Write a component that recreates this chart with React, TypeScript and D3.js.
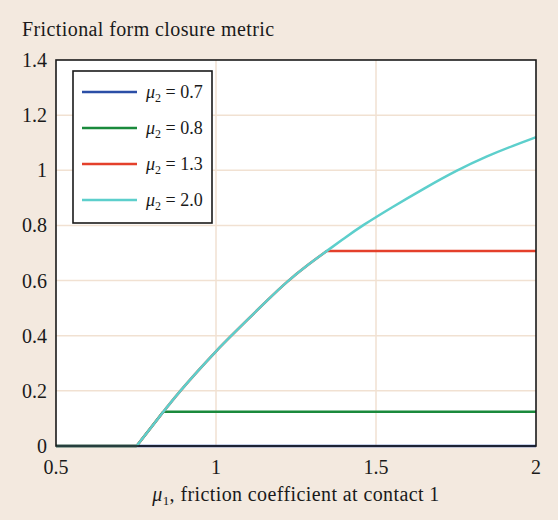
import * as d3 from "d3";

const W = 558;
const H = 520;
const M = { left: 56, right: 22, top: 60, bottom: 74 };

const xTicks = [0.5, 1, 1.5, 2];
const yTicks = [0, 0.2, 0.4, 0.6, 0.8, 1, 1.2, 1.4];
const xGrid = [1, 1.5];
const yGrid = [0.2, 0.4, 0.6, 0.8, 1, 1.2];

// [mu1, metric]
const mu07: [number, number][] = [
  [0.5, 0],
  [2, 0],
];
const mu08: [number, number][] = [
  [0.5, 0],
  [0.752, 0],
  [0.835, 0.124],
  [2, 0.124],
];
const mu13: [number, number][] = [
  [0.5, 0],
  [0.752, 0],
  [0.835, 0.124],
  [0.888, 0.2],
  [0.95, 0.281],
  [1.0, 0.344],
  [1.047, 0.399],
  [1.1, 0.46],
  [1.16, 0.528],
  [1.221, 0.596],
  [1.29, 0.66],
  [1.346, 0.707],
  [2, 0.707],
];
const mu20: [number, number][] = [
  [0.5, 0],
  [0.752, 0],
  [0.835, 0.124],
  [0.888, 0.2],
  [0.95, 0.281],
  [1.0, 0.344],
  [1.047, 0.399],
  [1.1, 0.46],
  [1.16, 0.528],
  [1.221, 0.596],
  [1.29, 0.66],
  [1.346, 0.707],
  [1.4, 0.753],
  [1.455, 0.798],
  [1.55, 0.866],
  [1.65, 0.934],
  [1.752, 1.0],
  [1.85, 1.053],
  [1.93, 1.09],
  [2.0, 1.12],
];

const series = [
  { label: "0.7", color: "#2b4ea6", data: mu07 },
  { label: "0.8", color: "#1a8a3c", data: mu08 },
  { label: "1.3", color: "#e4402b", data: mu13 },
  { label: "2.0", color: "#5dcfcc", data: mu20 },
];

const FONT = "'Liberation Serif', 'DejaVu Serif', serif";

// split a polyline where it switches between flat and rising, so the
// smoothing does not round off the kinks
function splitAtKinks(pts: [number, number][]) {
  const segs: [number, number][][] = [];
  let cur: [number, number][] = [pts[0]];
  let prevFlat: boolean | null = null;
  for (let i = 1; i < pts.length; i++) {
    const flat = pts[i][1] === pts[i - 1][1];
    if (prevFlat !== null && flat !== prevFlat) {
      segs.push(cur);
      cur = [pts[i - 1]];
    }
    cur.push(pts[i]);
    prevFlat = flat;
  }
  segs.push(cur);
  return segs;
}

export default function App() {
  const x = d3.scaleLinear().domain([0.5, 2]).range([M.left, W - M.right]);
  const y = d3.scaleLinear().domain([0, 1.4]).range([H - M.bottom, M.top]);

  const line = d3
    .line<[number, number]>()
    .x((d) => x(d[0]))
    .y((d) => y(d[1]))
    .curve(d3.curveBasis);

  const x0 = x(0.5);
  const x1 = x(2);
  const y0 = y(0);
  const y1 = y(1.4);

  return (
    <div style={{ position: "fixed", left: 0, top: 0 }}>
      <svg width={W} height={H} style={{ display: "block" }} fontFamily={FONT}>
        <rect width={W} height={H} fill="#f3e9df" />
        <text x={22} y={36} fontSize={20} letterSpacing={0.4} fill="#1a1a1a">
          Frictional form closure metric
        </text>

        <rect x={x0} y={y1} width={x1 - x0} height={y0 - y1} fill="#fff" />
        {xGrid.map((t) => (
          <line key={t} x1={x(t)} x2={x(t)} y1={y1} y2={y0} stroke="#f1e1d2" strokeWidth={1.5} />
        ))}
        {yGrid.map((t) => (
          <line key={t} x1={x0} x2={x1} y1={y(t)} y2={y(t)} stroke="#f1e1d2" strokeWidth={1.5} />
        ))}

        {series.map((s) => (
          <path
            key={s.label}
            d={splitAtKinks(s.data).map((seg) => line(seg) ?? "").join("")}
            fill="none"
            stroke={s.color}
            strokeWidth={2.5}
            strokeLinejoin="round"
          />
        ))}

        <rect x={x0} y={y1} width={x1 - x0} height={y0 - y1} fill="none" stroke="#1a1a1a" strokeWidth={1.6} />

        {yTicks.map((t) => (
          <text key={t} x={47} y={y(t) + 7} textAnchor="end" fontSize={20} fill="#1a1a1a">
            {d3.format("~g")(t)}
          </text>
        ))}
        {xTicks.map((t) => (
          <text key={t} x={x(t)} y={474} textAnchor="middle" fontSize={20} fill="#1a1a1a">
            {d3.format("~g")(t)}
          </text>
        ))}

        <text x={(x0 + x1) / 2} y={501} textAnchor="middle" fontSize={20} letterSpacing={0.4} fill="#1a1a1a">
          <tspan fontStyle="italic">μ</tspan>
          <tspan fontSize={13} dy={4}>1</tspan>
          <tspan dy={-4}>, friction coefficient at contact 1</tspan>
        </text>

        <g>
          <rect x={73} y={71} width={139} height={152} fill="#fff" stroke="#1a1a1a" strokeWidth={1.6} />
          {series.map((s, i) => {
            const ly = 92 + i * 36;
            return (
              <g key={s.label}>
                <line x1={82} x2={137} y1={ly} y2={ly} stroke={s.color} strokeWidth={2.5} />
                <text x={146} y={ly + 6} fontSize={18} fill="#1a1a1a">
                  <tspan fontStyle="italic">μ</tspan>
                  <tspan fontSize={12} dy={4}>2</tspan>
                  <tspan dy={-4}> = {s.label}</tspan>
                </text>
              </g>
            );
          })}
        </g>
      </svg>
    </div>
  );
}
